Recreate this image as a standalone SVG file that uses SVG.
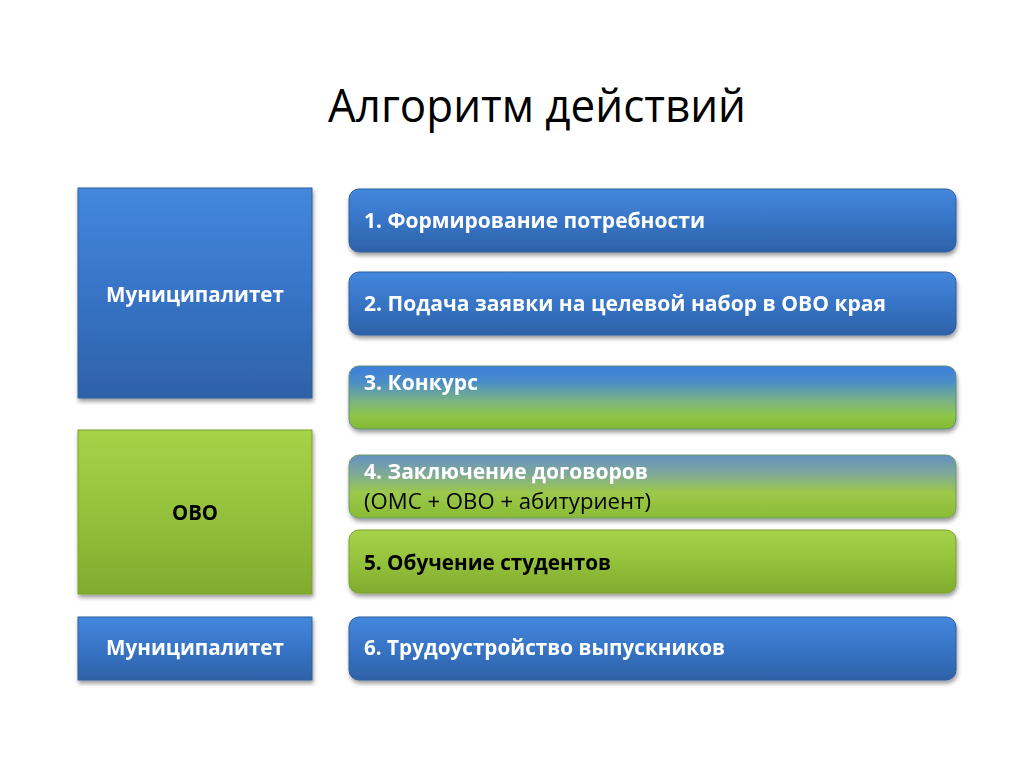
<svg xmlns="http://www.w3.org/2000/svg" width="1024" height="768" viewBox="0 0 1024 768">
<defs>
<linearGradient id="gBlue" x1="0" y1="0" x2="0" y2="1">
<stop offset="0" stop-color="#4488dc"/>
<stop offset="0.5" stop-color="#3774c6"/>
<stop offset="1" stop-color="#2e62a8"/>
</linearGradient>
<linearGradient id="gGreen" x1="0" y1="0" x2="0" y2="1">
<stop offset="0" stop-color="#a6d24a"/>
<stop offset="0.5" stop-color="#95c23c"/>
<stop offset="1" stop-color="#80ab2d"/>
</linearGradient>
<linearGradient id="gMix3" x1="0" y1="0" x2="0" y2="1">
<stop offset="0" stop-color="#3c7fdc"/>
<stop offset="0.25" stop-color="#4a8cc8"/>
<stop offset="0.55" stop-color="#79b384"/>
<stop offset="0.8" stop-color="#8fc646"/>
<stop offset="1" stop-color="#84b832"/>
</linearGradient>
<linearGradient id="gMix4" x1="0" y1="0" x2="0" y2="1">
<stop offset="0" stop-color="#6392c0"/>
<stop offset="0.3" stop-color="#80a998"/>
<stop offset="0.6" stop-color="#9cc94a"/>
<stop offset="1" stop-color="#8abb34"/>
</linearGradient>
<filter id="sh" x="-5%" y="-10%" width="110%" height="130%">
<feDropShadow dx="1" dy="3" stdDeviation="2" flood-color="#000" flood-opacity="0.4"/>
</filter>
</defs>
<style>
.lbox{stroke-width:1}
.blue{fill:url(#gBlue);stroke:#2d5e9e}
.green{fill:url(#gGreen);stroke:#7aa12c}
.m3{fill:url(#gMix3);stroke:#5f8f7a}
.m4{fill:url(#gMix4);stroke:#6f9a6a}
.t{font-family:"Open Sans","Noto Sans","Liberation Sans",sans-serif;font-size:21px;font-weight:bold}
.w{fill:#ffffff}
.k{fill:#000000}
.title{font-family:"Open Sans","Noto Sans","Liberation Sans",sans-serif;font-size:46px;fill:#000}
</style>
<rect width="1024" height="768" fill="#ffffff"/>
<text class="title" x="328" y="122" textLength="418" lengthAdjust="spacingAndGlyphs">Алгоритм действий</text>

<g id="left1" filter="url(#sh)">
<rect class="lbox blue" x="78" y="188" width="234" height="210"/>
<text class="t w" x="106" y="302" textLength="178" lengthAdjust="spacingAndGlyphs">Муниципалитет</text>
</g>
<g id="left2" filter="url(#sh)">
<rect class="lbox green" x="78" y="430" width="234" height="164"/>
<text class="t k" x="172" y="520" textLength="46" lengthAdjust="spacingAndGlyphs">ОВО</text>
</g>
<g id="left3" filter="url(#sh)">
<rect class="lbox blue" x="78" y="617" width="234" height="63"/>
<text class="t w" x="106" y="655" textLength="178" lengthAdjust="spacingAndGlyphs">Муниципалитет</text>
</g>

<g id="step1" filter="url(#sh)">
<rect class="blue" x="349" y="189" width="607" height="63" rx="10"/>
<text class="t w" x="364" y="228" textLength="341" lengthAdjust="spacingAndGlyphs">1. Формирование потребности</text>
</g>
<g id="step2" filter="url(#sh)">
<rect class="blue" x="349" y="272" width="607" height="63" rx="10"/>
<text class="t w" x="364" y="311" textLength="522" lengthAdjust="spacingAndGlyphs">2. Подача заявки на целевой набор в ОВО края</text>
</g>
<g id="step3" filter="url(#sh)">
<rect class="m3" x="349" y="366" width="607" height="63" rx="10"/>
<text class="t w" x="364" y="390" textLength="114" lengthAdjust="spacingAndGlyphs">3. Конкурс</text>
</g>
<g id="step4" filter="url(#sh)">
<rect class="m4" x="349" y="455" width="607" height="63" rx="10"/>
<text class="t w" x="364" y="479" textLength="284" lengthAdjust="spacingAndGlyphs">4. Заключение договоров</text>
<text class="t k" x="364" y="509" style="font-weight:normal" textLength="287" lengthAdjust="spacingAndGlyphs">(ОМС + ОВО + абитуриент)</text>
</g>
<g id="step5" filter="url(#sh)">
<rect class="green" x="349" y="530" width="607" height="63" rx="10"/>
<text class="t k" x="364" y="570" textLength="247" lengthAdjust="spacingAndGlyphs">5. Обучение студентов</text>
</g>
<g id="step6" filter="url(#sh)">
<rect class="blue" x="349" y="617" width="607" height="63" rx="10"/>
<text class="t w" x="364" y="655" textLength="361" lengthAdjust="spacingAndGlyphs">6. Трудоустройство выпускников</text>
</g>
<g id="connectors"></g>
</svg>
